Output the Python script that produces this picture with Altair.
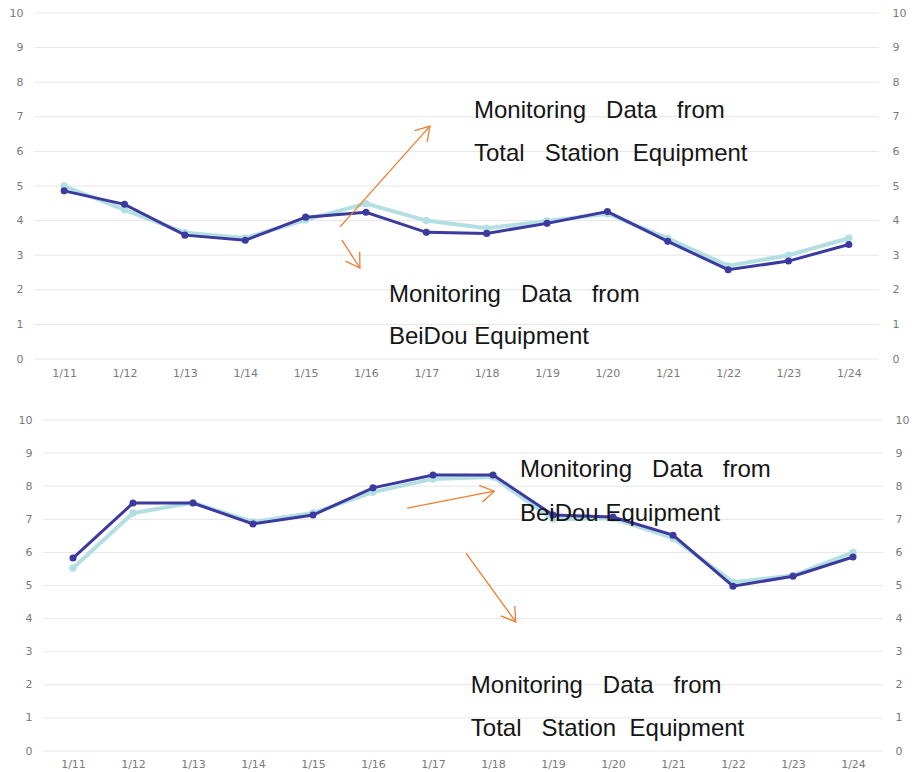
import math
import altair as alt
import pandas as pd

dates = ["1/11", "1/12", "1/13", "1/14", "1/15", "1/16", "1/17",
         "1/18", "1/19", "1/20", "1/21", "1/22", "1/23", "1/24"]
levels = list(range(11))

top_light = [5.0, 4.31, 3.65, 3.5, 4.02, 4.49, 4.0, 3.78, 3.99, 4.2, 3.49, 2.69, 3.0, 3.49]
top_dark = [4.86, 4.47, 3.58, 3.43, 4.1, 4.24, 3.66, 3.63, 3.92, 4.26, 3.4, 2.58, 2.83, 3.31]
bot_light = [5.53, 7.19, 7.5, 6.92, 7.19, 7.82, 8.22, 8.28, 7.0, 7.03, 6.43, 5.1, 5.3, 6.0]
bot_dark = [5.83, 7.49, 7.49, 6.86, 7.13, 7.95, 8.34, 8.34, 7.13, 7.07, 6.52, 4.98, 5.28, 5.86]

SP = "\u00a0"
line_mon = "Monitoring" + SP * 3 + "Data" + SP * 3 + "from"
line_ts = "Total" + SP * 3 + "Station" + SP * 2 + "Equipment"
line_bd = "BeiDou Equipment"

# annotation texts: (x index, y value, text)
top_texts_x = [6.79, 6.79, 5.38, 5.38]
top_texts_y = [6.97, 5.72, 1.66, 0.44]
top_texts_t = [line_mon, line_ts, line_mon, line_bd]
bot_texts_x = [7.45, 7.45, 6.63, 6.63]
bot_texts_y = [8.28, 6.95, 1.75, 0.45]
bot_texts_t = [line_mon, line_bd, line_mon, line_ts]

# arrows: tail (x, y) -> tip (x2, y2)
top_arrows_x = [4.57, 4.60]
top_arrows_y = [3.82, 3.44]
top_arrows_x2 = [6.06, 4.90]
top_arrows_y2 = [6.73, 2.63]
bot_arrows_x = [5.57, 6.55]
bot_arrows_y = [7.34, 5.98]
bot_arrows_x2 = [7.02, 7.38]
bot_arrows_y2 = [7.85, 3.90]

LIGHT = "#b3dfe2"
DARK = "#3c3a9e"
ORANGE = "#ed7d31"
GRID = "#e6e6e6"
LABEL_FONT = "DejaVu Sans"
LABEL_COLOR = "#7a7a7a"

label_expr = "[" + ",".join("'%s'" % d for d in dates) + "][datum.value]"


def panel(light, dark, tx, ty, tt, ax, ay, ax2, ay2, w, h, xdom, grid_span,
          lpad, rpad, xpad):
    n = len(dates)
    df_l = pd.DataFrame({"i": list(range(n)), "v": light})
    df_d = pd.DataFrame({"i": list(range(n)), "v": dark})
    df_t = pd.DataFrame({"i": tx, "v": ty, "t": tt})
    df_g = pd.DataFrame({"i": [grid_span[0]] * len(levels),
                         "i2": [grid_span[1]] * len(levels), "v": levels})
    px_x = w / float(xdom[1] - xdom[0])
    px_y = h / 10.0
    angles = []
    for a, b, a2, b2 in zip(ax, ay, ax2, ay2):
        dx = (a2 - a) * px_x
        dy = -(b2 - b) * px_y
        angles.append(math.degrees(math.atan2(dx, -dy)) % 360)
    df_a = pd.DataFrame({"i": ax, "v": ay, "i2": ax2, "v2": ay2})
    df_h = pd.DataFrame({"i": ax2, "v": ay2, "ang": angles})

    xs = alt.Scale(domain=list(xdom), nice=False, zero=False)
    ys = alt.Scale(domain=[0, 10], nice=False, zero=False)
    common = dict(title=None, grid=False, ticks=False, domain=False,
                  labelFont=LABEL_FONT, labelFontSize=11, labelColor=LABEL_COLOR,
                  labelFlush=False)
    xaxis = alt.Axis(values=list(range(n)), labelExpr=label_expr,
                     labelPadding=xpad, **common)
    yleft = alt.Axis(values=levels, orient="left", labelPadding=lpad,
                     minExtent=26, maxExtent=26, **common)
    yright = alt.Axis(values=levels, orient="right", labelPadding=rpad, **common)

    X = alt.X("i:Q", scale=xs, axis=xaxis)
    Yn = alt.Y("v:Q", scale=ys, axis=None)

    grid = alt.Chart(df_g).mark_rule(color=GRID, strokeWidth=1).encode(
        x=X, x2="i2:Q", y=alt.Y("v:Q", scale=ys, axis=yleft))
    l_line = alt.Chart(df_l).mark_line(color=LIGHT, strokeWidth=4).encode(x=X, y=Yn)
    l_pts = alt.Chart(df_l).mark_circle(color=LIGHT, size=55, opacity=1).encode(x=X, y=Yn)
    d_line = alt.Chart(df_d).mark_line(color=DARK, strokeWidth=3).encode(
        x=X, y=alt.Y("v:Q", scale=ys, axis=yright))
    d_pts = alt.Chart(df_d).mark_circle(color=DARK, size=50, opacity=1).encode(x=X, y=Yn)
    texts = alt.Chart(df_t).mark_text(align="left", baseline="alphabetic",
                                      font="Liberation Sans", fontSize=24,
                                      color="#151515").encode(x=X, y=Yn, text="t:N")
    rules = alt.Chart(df_a).mark_rule(color=ORANGE, strokeWidth=1.3).encode(
        x=X, y=Yn, x2="i2:Q", y2="v2:Q")
    heads = alt.Chart(df_h).mark_point(
        shape="M -0.53 0.85 L 0 0 L 0.53 0.85", filled=False, color=ORANGE,
        strokeWidth=1.3, size=1024, opacity=1).encode(
        x=X, y=Yn, angle=alt.Angle("ang:Q", scale=None))

    return alt.layer(grid, l_line, l_pts, d_line, d_pts, texts, rules, heads).resolve_axis(
        y="independent").properties(width=w, height=h)


top = panel(top_light, top_dark, top_texts_x, top_texts_y, top_texts_t,
            top_arrows_x, top_arrows_y, top_arrows_x2, top_arrows_y2,
            845, 346, (-0.5, 13.5), (-0.5, 13.5), 11, 13, 8)
bottom = panel(bot_light, bot_dark, bot_texts_x, bot_texts_y, bot_texts_t,
               bot_arrows_x, bot_arrows_y, bot_arrows_x2, bot_arrows_y2,
               849, 331, (-0.65, 13.5), (-0.5, 13.5), 2, 12, 7)

chart = alt.vconcat(top, bottom, spacing=36).properties(
    padding={"left": 0, "top": -1, "right": 0, "bottom": 0},
    background="white"
).configure_view(stroke="transparent", strokeWidth=0)

chart.save("out.html", embed_options={"renderer": "svg", "actions": False})
